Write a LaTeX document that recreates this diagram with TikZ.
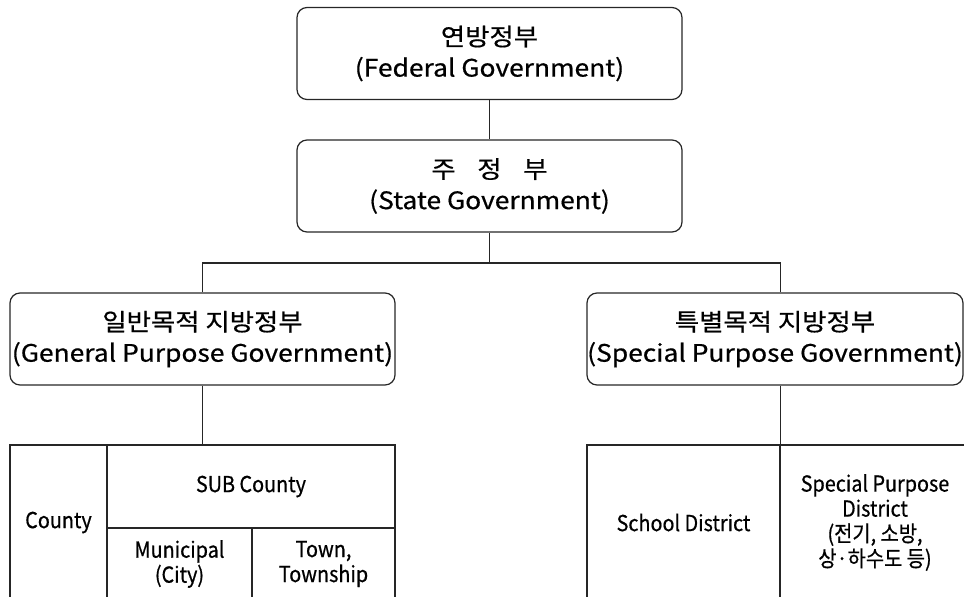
\documentclass[tikz,border=0pt]{standalone}
\usepackage{fontspec}
\setmainfont{Noto Sans CJK KR}
\newfontfamily\boxkr[FakeStretch=1.1,FakeBold=0.6]{Noto Sans CJK KR}
\newfontfamily\narrowkr[FakeStretch=0.9,FakeBold=0.6]{Noto Sans CJK KR}
\begin{document}
\begin{tikzpicture}[x=1pt,y=-1pt,line width=1.2pt,
  gbox/.style={draw=black!85,rounded corners=10pt,align=center,inner sep=0pt,
    minimum height=92pt,font=\boxkr\fontsize{24}{31}\selectfont},
  cell/.style={draw=black!85,align=center,inner sep=0pt,
    font=\narrowkr\fontsize{22}{25}\selectfont},
  conn/.style={draw=black!85,line width=1.5pt}]
\useasboundingbox (0,0) rectangle (964,597);
\clip (0,0) rectangle (964,597);
\node[gbox,minimum width=385pt] (fed) at (489.5,53.5) {연방정부\\(Federal Government)};
\node[gbox,minimum width=385pt] (state) at (489.5,186) {주\hspace{0.9em}정\hspace{0.9em}부\\(State Government)};
\node[gbox,minimum width=385pt] (gen) at (202.5,339) {일반목적 지방정부\\(General Purpose Government)};
\node[gbox,minimum width=376pt] (spec) at (775,339) {특별목적 지방정부\\(Special Purpose Government)};
\coordinate (j) at (489.5,263);
% left table
\node[cell,minimum width=97pt,minimum height=155pt] (county) at (58.5,522.5) {County};
\node[cell,minimum width=288pt,minimum height=83pt] (sub) at (251,486.5) {SUB County};
\node[cell,minimum width=145pt,minimum height=72pt] (muni) at (179.5,564) {Municipal\\(City)};
\node[cell,minimum width=143pt,minimum height=72pt] (town) at (323.5,564) {Town,\\Township};
% right table
\node[cell,minimum width=193pt,minimum height=155pt] (school) at (683.5,522.5) {School District};
\node[cell,minimum width=190pt,minimum height=155pt] (spd) at (875,522.5) {Special Purpose\\District\\(전기, 소방,\\상·하수도 등)};
% connectors
\draw[conn] (fed.south) -- (state.north);
\draw[conn] (state.south) -- (j);
\draw[conn] (gen.north) |- (j) -| (spec.north -| school.east);
\draw[conn] (gen.south) -- (gen.south |- sub.north);
\draw[conn] (spec.south -| school.east) -- (school.north east);
\end{tikzpicture}
\end{document}
